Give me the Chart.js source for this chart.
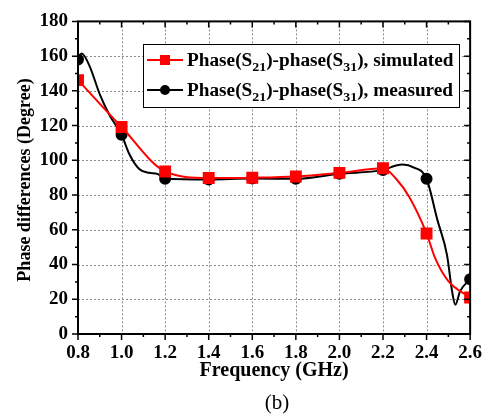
<!DOCTYPE html>
<html>
<head>
<meta charset="utf-8">
<script src="https://cdn.jsdelivr.net/npm/chart.js@4/dist/chart.umd.min.js"></script>
<style>
html, body { margin: 0; padding: 0; background: #fff; }
</style>
</head>
<body>
<canvas id="plot" width="490" height="419"></canvas>
<script>
// frequencies (GHz) where the markers sit
const freqs = [0.8, 1.0, 1.2, 1.4, 1.6, 1.8, 2.0, 2.2, 2.4, 2.6];
// phase difference (degree) at the markers
const simulated = [146.2, 119.2, 93.6, 89.8, 90.0, 90.7, 92.8, 95.4, 57.9, 21.0];
const measured  = [158.0, 114.7, 89.4, 89.0, 89.5, 89.4, 92.3, 94.5, 89.4, 31.5];

// extra points (no marker there)
const simCurveFreq  = [2.26, 2.32, 2.44, 2.50];
const simCurvePhase = [89.4, 79.0, 43.5, 30.4];
const measCurveFreq  = [0.817, 0.854, 0.90, 0.945, 1.036, 1.081, 1.126, 1.164, 2.26, 2.29, 2.34, 2.449, 2.494, 2.517, 2.532, 2.554];
const measCurvePhase = [161.5, 154.0, 138.0, 126.0, 103.5, 95.0, 92.8, 92.2, 97.0, 97.6, 96.0, 66.0, 45.4, 24.7, 16.9, 24.7];

const FONT = "'Liberation Serif', 'Times New Roman', serif";

function buildCurve(mx, my, ex, ey) {
    let pts = [];
    for (let i = 0; i < mx.length; i++) pts.push({x: mx[i], y: my[i], m: true});
    for (let i = 0; i < ex.length; i++) pts.push({x: ex[i], y: ey[i], m: false});
    pts.sort(function(a, b){ return a.x - b.x; });
    return pts;
}

// grid, frame and tick marks
const framePlugin = {
    id: 'frame',
    beforeDatasetsDraw(chart) {
        const c = chart.ctx, a = chart.chartArea;
        const xs = chart.scales.x, ys = chart.scales.y;
        c.save();
        c.strokeStyle = '#8c8c8c';
        c.lineWidth = 1;
        c.setLineDash([2, 2]);
        for (let v = 1.0; v < 2.59; v += 0.2) {
            const px = Math.round(xs.getPixelForValue(v)) + 0.5;
            c.beginPath(); c.moveTo(px, a.top); c.lineTo(px, a.bottom); c.stroke();
        }
        for (let v = 20; v < 180; v += 20) {
            const py = Math.round(ys.getPixelForValue(v)) + 0.5;
            c.beginPath(); c.moveTo(a.left, py); c.lineTo(a.right, py); c.stroke();
        }
        c.restore();
    },
    afterDatasetsDraw(chart) {
        const c = chart.ctx, a = chart.chartArea;
        const xs = chart.scales.x, ys = chart.scales.y;
        c.save();
        c.strokeStyle = '#000';
        c.lineWidth = 1.5;
        for (let i = 0; i <= 18; i++) {
            const v = 0.8 + i * 0.1;
            const px = xs.getPixelForValue(v);
            const len = i % 2 === 0 ? 6 : 3;
            c.beginPath();
            c.moveTo(px, a.bottom); c.lineTo(px, a.bottom + len);
            c.moveTo(px, a.top); c.lineTo(px, a.top + len);
            c.stroke();
        }
        for (let i = 0; i <= 18; i++) {
            const py = ys.getPixelForValue(i * 10);
            const len = i % 2 === 0 ? 6 : 3;
            c.beginPath();
            c.moveTo(a.left, py); c.lineTo(a.left - len, py);
            c.moveTo(a.right, py); c.lineTo(a.right - len, py);
            c.stroke();
        }
        c.lineWidth = 2;
        c.strokeRect(a.left, a.top, a.right - a.left, a.bottom - a.top);

        c.fillStyle = '#000';
        c.textAlign = 'center';
        c.textBaseline = 'middle';
        // y axis title
        c.save();
        c.translate(25, 180);
        c.rotate(-Math.PI / 2);
        c.font = 'bold 18px ' + FONT;
        c.fillText('Phase differences (Degree)', 0, 0);
        c.restore();
        // figure label
        c.font = '21px ' + FONT;
        c.textBaseline = 'alphabetic';
        c.fillText('(b)', 277, 409);
        c.restore();
    }
};

// boxed legend with subscripts
const legendPlugin = {
    id: 'boxLegend',
    afterDraw(chart) {
        const c = chart.ctx;
        const rows = [
            {color: '#ff0000', shape: 'rect', parts: [['Phase(S', 0], ['21', 1], [')-phase(S', 0], ['31', 1], ['), simulated', 0]]},
            {color: '#000000', shape: 'circle', parts: [['Phase(S', 0], ['21', 1], [')-phase(S', 0], ['31', 1], ['), measured', 0]]}
        ];
        c.save();
        c.fillStyle = '#fff';
        c.fillRect(143.5, 44.5, 316, 63);
        c.strokeStyle = '#000';
        c.lineWidth = 1;
        c.strokeRect(143.5, 44.5, 316, 63);
        rows.forEach(function(r, i){
            const cy = 60 + i * 30;
            c.strokeStyle = r.color;
            c.fillStyle = r.color;
            c.lineWidth = 2;
            c.beginPath(); c.moveTo(147, cy); c.lineTo(183, cy); c.stroke();
            if (r.shape === 'rect') {
                c.fillRect(160, cy - 5, 10, 10);
            } else {
                c.beginPath(); c.arc(165, cy, 5, 0, Math.PI * 2); c.fill();
            }
            c.fillStyle = '#000';
            c.textAlign = 'left';
            c.textBaseline = 'alphabetic';
            c.save();
            c.translate(187, cy + 6);
            c.scale(1.07, 1);
            let x = 0;
            r.parts.forEach(function(p){
                c.font = (p[1] ? 'bold 13px ' : 'bold 18px ') + FONT;
                c.fillText(p[0], x, p[1] ? 5 : 0);
                x += c.measureText(p[0]).width;
            });
            c.restore();
        });
        c.restore();
    }
};

function markerRadius(r) {
    return function(ctx){ return ctx.raw && ctx.raw.m ? r : 0; };
}

const chart = new Chart(document.getElementById('plot').getContext('2d'), {
    type: 'line',
    data: {
        datasets: [
            {
                label: 'simulated',
                data: buildCurve(freqs, simulated, simCurveFreq, simCurvePhase),
                borderColor: '#ff0000',
                backgroundColor: '#ff0000',
                borderWidth: 2,
                pointStyle: 'rect',
                pointRadius: markerRadius(7),
                pointHoverRadius: markerRadius(7),
                cubicInterpolationMode: 'monotone'
            },
            {
                label: 'measured',
                data: buildCurve(freqs, measured, measCurveFreq, measCurvePhase),
                borderColor: '#000000',
                backgroundColor: '#000000',
                borderWidth: 2,
                pointStyle: 'circle',
                pointRadius: markerRadius(5),
                pointHoverRadius: markerRadius(5),
                cubicInterpolationMode: 'monotone'
            }
        ]
    },
    options: {
        responsive: false,
        animation: false,
        devicePixelRatio: 1,
        layout: { padding: { left: 0, top: 14, right: 15, bottom: 0 } },
        plugins: { legend: { display: false }, tooltip: { enabled: false } },
        scales: {
            x: {
                type: 'linear',
                min: 0.8, max: 2.6,
                grid: { display: false, drawTicks: false },
                border: { display: false },
                ticks: {
                    stepSize: 0.2,
                    padding: 8,
                    color: '#000',
                    font: { family: FONT, size: 19, weight: 'bold' },
                    callback: function(v){ return Number(v).toFixed(1); }
                },
                title: {
                    display: true,
                    text: 'Frequency (GHz)',
                    color: '#000',
                    font: { family: FONT, size: 20, weight: 'bold' },
                    padding: { top: 0, bottom: 36 }
                },
                afterFit: function(s){ s.height = 85; }
            },
            y: {
                min: 0, max: 180,
                grid: { display: false, drawTicks: false },
                border: { display: false },
                ticks: {
                    stepSize: 20,
                    padding: 10,
                    color: '#000',
                    font: { family: FONT, size: 19, weight: 'bold' }
                },
                afterFit: function(s){ s.width = 78; }
            }
        }
    },
    plugins: [framePlugin, legendPlugin]
});
</script>
</body>
</html>
